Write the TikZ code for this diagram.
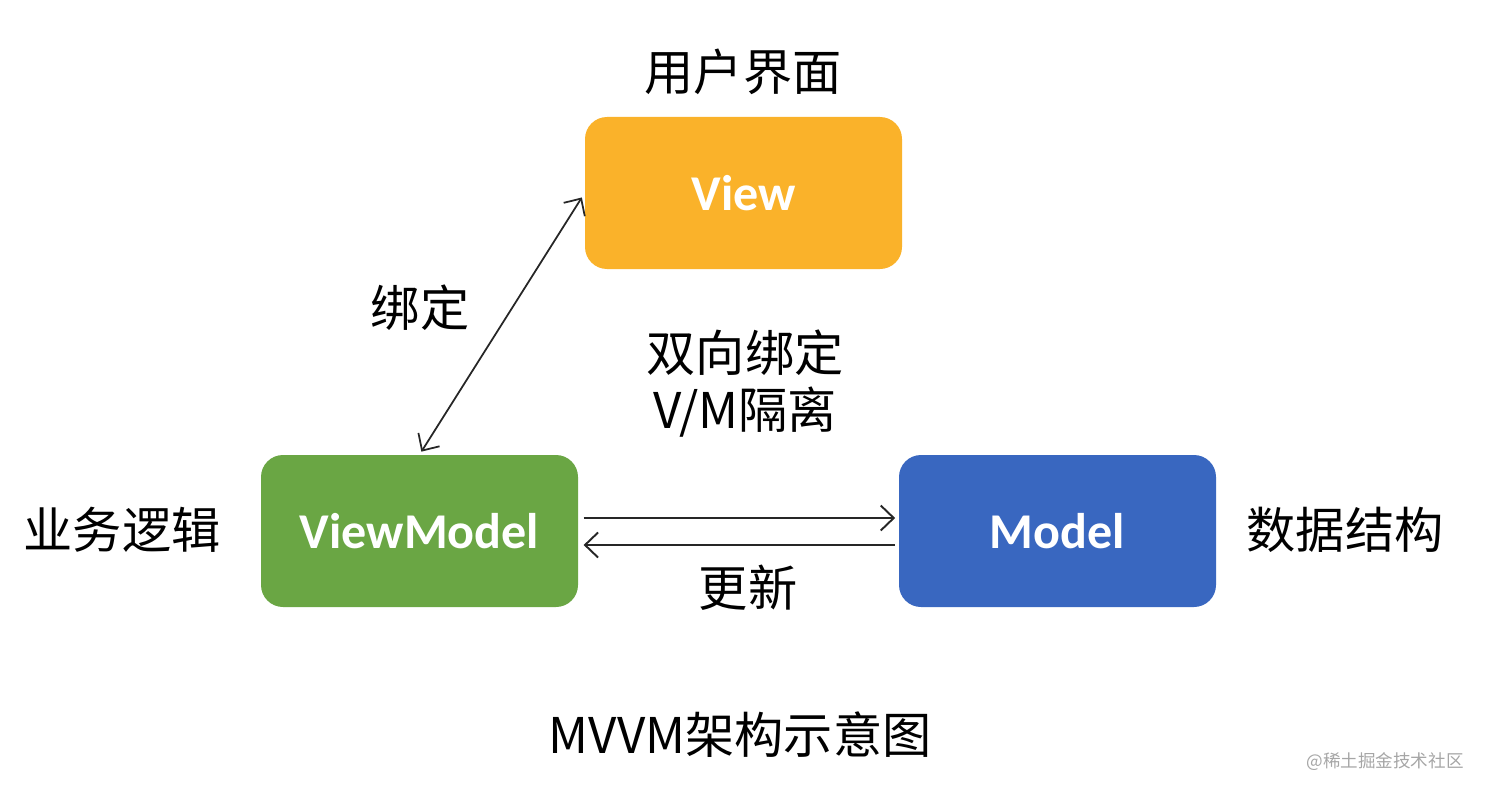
\documentclass[tikz,border=0pt]{standalone}
\usepackage{fontspec}
\setmainfont{Carlito}
\newfontfamily\cjk{Noto Sans CJK SC}
\usepackage{tikz}
\usetikzlibrary{arrows, arrows.meta, positioning, calc}
\usepackage{xcolor}
\definecolor{vieworange}{RGB}{250,178,42}
\definecolor{vmgreen}{RGB}{106,166,68}
\definecolor{modelblue}{RGB}{57,103,192}

\begin{document}
\begin{tikzpicture}[
        box/.style={rounded corners=0.44cm, minimum width=6.34cm, minimum height=3.04cm, inner sep=0pt, text=white, font=\bfseries\fontsize{28.5}{32}\selectfont},
        lbl/.style={inner sep=0pt, font=\cjk\fontsize{28}{32}\selectfont},
        link/.style={black!85, line width=1pt, {Straight Barb[length=2.6mm, width=5mm]}-{Straight Barb[length=2.6mm, width=5mm]}},
        flow/.style={black!85, line width=1.1pt, -{Straight Barb[length=2.6mm, width=5mm]}}
    ]
        \useasboundingbox (0, 0) rectangle (29.76, 15.92);

        \node[box, fill=vieworange] (view) at (14.87, 12.06) {View};
        \node[box, fill=vmgreen] (vm) at (8.39, 5.30) {ViewModel};
        \node[box, fill=modelblue] (model) at (21.15, 5.30) {Model};

        \node[lbl] (ui) at (14.86, 14.48) {用户界面};
        \node[lbl] (bind) at (8.40, 9.76) {绑定};
        \node[lbl] (twoway) at (14.90, 8.86) {双向绑定};
        \node[lbl, below=0.2cm of twoway] (iso) {V/M隔离};
        \node[lbl] (logic) at (2.44, 5.32) {业务逻辑};
        \node[lbl] (data) at (26.90, 5.32) {数据结构};
        \node[lbl] (update) at (14.96, 4.16) {更新};
        \node[lbl] (title) at (14.80, 1.22) {MVVM架构示意图};
        \node[inner sep=0pt, text=black!35, font=\cjk\fontsize{10}{12}\selectfont] (mark) at (27.70, 0.68) {@稀土掘金技术社区};

        \draw[link, shorten <=2pt, shorten >=3pt] (vm.north) -- (view.west);
        \draw[flow] ([xshift=3pt, yshift=0.26cm]vm.east) -- ([xshift=-2pt, yshift=0.26cm]model.west);
        \draw[flow] ([xshift=-2pt, yshift=-0.28cm]model.west) -- ([xshift=3pt, yshift=-0.28cm]vm.east);
\end{tikzpicture}
\end{document}
